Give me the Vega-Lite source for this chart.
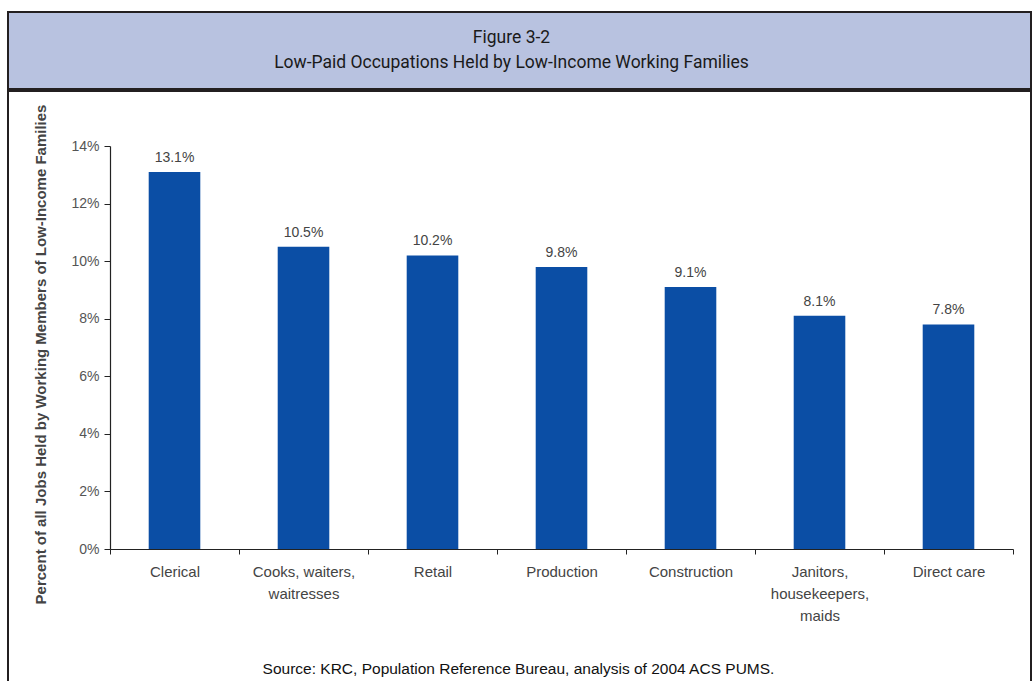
{
  "$schema": "https://vega.github.io/schema/vega-lite/v6.json",
  "padding": {"left": 7, "top": 11, "right": 0, "bottom": 0},
  "background": "white",
  "spacing": 0,
  "config": {"font": "Liberation Sans"},
  "vconcat": [
    {
      "width": 1023,
      "height": 77,
      "view": {"fill": "#b8c2e0", "stroke": "#231f20", "strokeWidth": 2},
      "data": {"values": [{"t": "Figure 3-2\nLow-Paid Occupations Held by Low-Income Working Families"}]},
      "mark": {"type": "text", "lineBreak": "\n", "lineHeight": 25, "font": "Roboto", "fontSize": 17.5, "color": "#1a1a1a", "dx": -8, "dy": -13, "baseline": "middle", "align": "center"},
      "encoding": {"text": {"field": "t"}}
    },
    {
      "width": 1023,
      "height": 591,
      "view": {"fill": "white", "stroke": "#231f20", "strokeWidth": 2},
      "data": {"values": [
        {"occ": "Clerical", "pct": 13.1, "lab": "13.1%"},
        {"occ": "Cooks, waiters,|waitresses", "pct": 10.5, "lab": "10.5%"},
        {"occ": "Retail", "pct": 10.2, "lab": "10.2%"},
        {"occ": "Production", "pct": 9.8, "lab": "9.8%"},
        {"occ": "Construction", "pct": 9.1, "lab": "9.1%"},
        {"occ": "Janitors,|housekeepers,|maids", "pct": 8.1, "lab": "8.1%"},
        {"occ": "Direct care", "pct": 7.8, "lab": "7.8%"}
      ]},
      "encoding": {
        "x": {
          "field": "occ", "type": "nominal", "sort": null,
          "scale": {"range": [102, 1005], "paddingInner": 0, "paddingOuter": 0},
          "axis": {
            "orient": "bottom", "offset": -133,
            "domainColor": "#222", "domainWidth": 1.2,
            "tickColor": "#222", "tickSize": 5, "tickBand": "extent",
            "labelAngle": 0, "labelFontSize": 15, "labelColor": "#444", "labelPadding": 10,
            "labelExpr": "split(datum.label, '|')", "labelLineHeight": 22,
            "title": "Source: KRC, Population Reference Bureau, analysis of 2004 ACS PUMS.",
            "titleFont": "Liberation Sans", "titleFontSize": 15.5, "titleFontWeight": "normal", "titleColor": "#111",
            "titleX": 510, "titleY": 119, "titleBaseline": "middle", "titleAnchor": "middle"
          }
        },
        "y": {
          "field": "pct", "type": "quantitative",
          "scale": {"domain": [0, 14], "range": [458, 55], "nice": false},
          "axis": {
            "orient": "left", "offset": -102,
            "values": [0, 2, 4, 6, 8, 10, 12, 14],
            "labelExpr": "datum.value + '%'",
            "grid": false,
            "domainColor": "#222", "domainWidth": 1.2,
            "tickColor": "#222", "tickSize": 6,
            "labelFontSize": 14, "labelColor": "#555", "labelPadding": 5,
            "title": "Percent of all Jobs Held by Working Members of Low-Income Families",
            "titleFontSize": 15, "titleFontWeight": "bold", "titleColor": "#444",
            "titleAngle": 270, "titleX": -70, "titleY": 263, "titleBaseline": "middle", "titleAlign": "center"
          }
        }
      },
      "layer": [
        {"mark": {"type": "bar", "color": "#0b4ea5", "width": {"band": 0.4}}},
        {"mark": {"type": "text", "baseline": "bottom", "dy": -7, "fontSize": 14, "color": "#444"}, "encoding": {"text": {"field": "lab"}}}
      ]
    }
  ]
}
